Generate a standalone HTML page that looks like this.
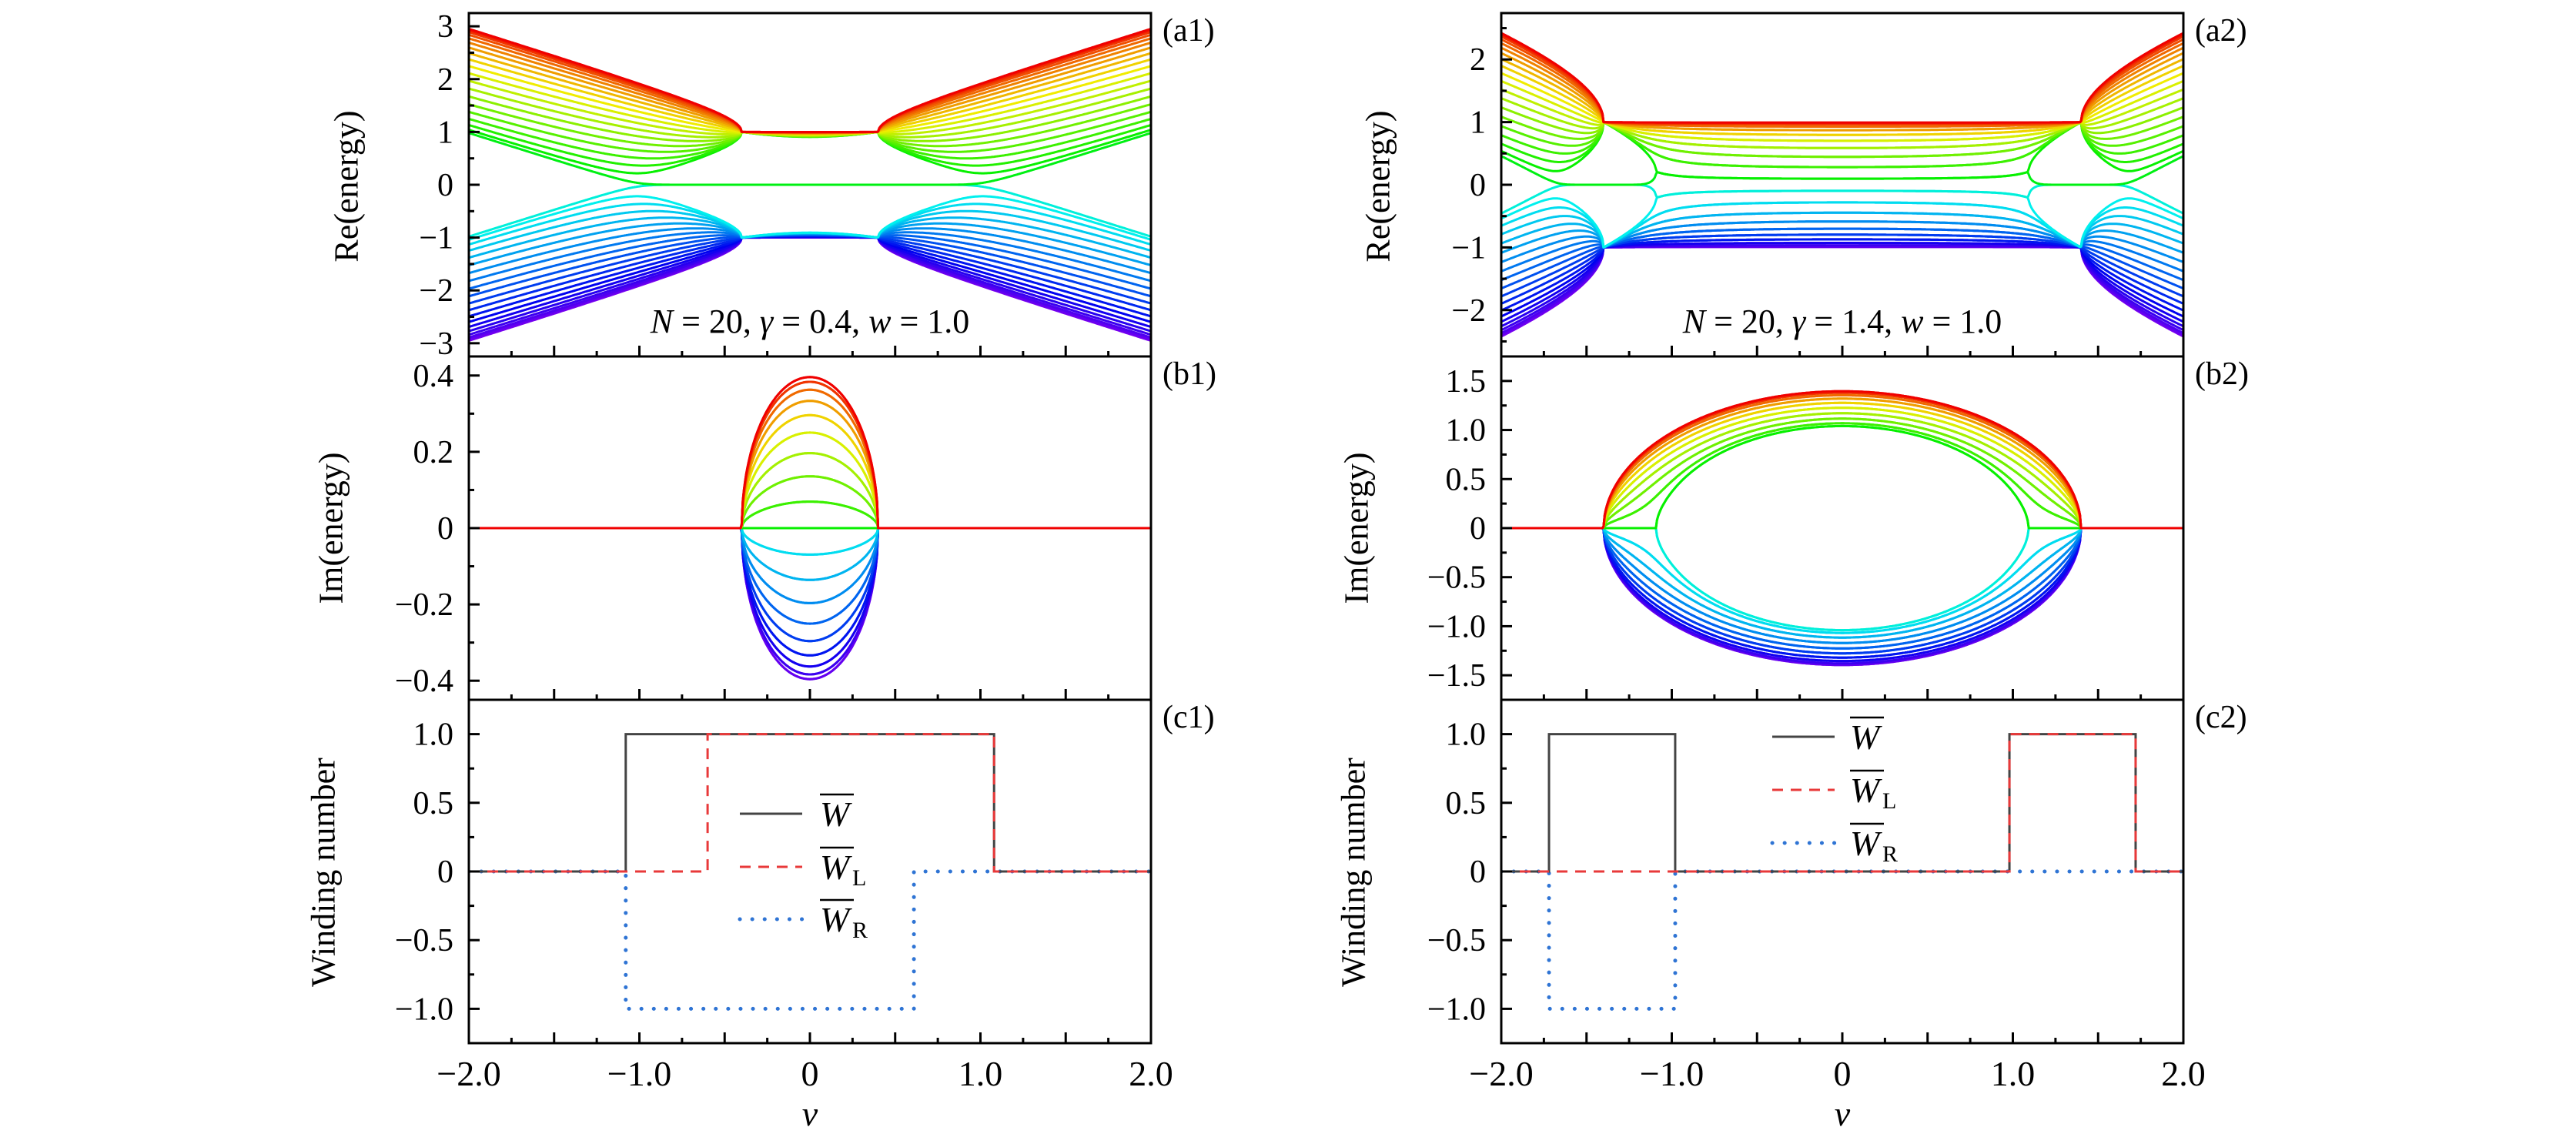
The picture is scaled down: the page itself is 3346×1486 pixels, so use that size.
<!DOCTYPE html>
<html><head><meta charset="utf-8"><style>
html,body{margin:0;padding:0;background:#fff;}
svg{display:block;font-family:"Liberation Serif",serif;}
</style></head><body>
<svg id="fig" xmlns="http://www.w3.org/2000/svg" width="3346" height="1486" viewBox="0 0 3346 1486">
<rect width="3346" height="1486" fill="#fff"/>
</svg>
<script>
// ---- data ----
const modelN = [20, 20];
const modelGamma = [0.4, 1.4];
const modelW = [1.0, 1.0];
const panelTags = [["(a1)","(b1)","(c1)"],["(a2)","(b2)","(c2)"]];
const reRanges = [[-3.25, 3.25], [-2.74, 2.74]];
const imRanges = [[-0.45, 0.45], [-1.75, 1.75]];
const wnRange = [-1.25, 1.25];
const reTicks = [[3,2,1,0,-1,-2,-3],[2,1,0,-1,-2]];
const reTickLabels = [["3","2","1","0","−1","−2","−3"],["2","1","0","−1","−2"]];
const imTicks = [[0.4,0.2,0,-0.2,-0.4],[1.5,1.0,0.5,0,-0.5,-1.0,-1.5]];
const imTickLabels = [["0.4","0.2","0","−0.2","−0.4"],["1.5","1.0","0.5","0","−0.5","−1.0","−1.5"]];
const wnTicks = [1.0,0.5,0,-0.5,-1.0];
const wnTickLabels = ["1.0","0.5","0","−0.5","−1.0"];
const xTicks = [-2,-1,0,1,2];
const xTickLabels = ["−2.0","−1.0","0","1.0","2.0"];
// winding-number step functions: breakpoints and levels
const wBreaks = [[-1.08, 1.08], [-1.72, -0.98, 0.98, 1.72]];
const wLevels = [[0,1,0], [0,1,0,1,0]];
const wlBreaks = [[-0.60, 1.08], [0.98, 1.72]];
const wlLevels = [[0,1,0], [0,1,0]];
const wrBreaks = [[-1.08, 0.61], [-1.72, -0.98]];
const wrLevels = [[0,-1,0], [0,-1,0]];

// ---- geometry ----
const NS="http://www.w3.org/2000/svg";
const svg=document.getElementById('fig');
const X0=[609,1950], PW=886, TOPS=[17,463,909], PH=446;
function xs(p,v){return X0[p]+(v+2)/4*PW;}
function ys(row,val,r){return TOPS[row]+(r[1]-val)/(r[1]-r[0])*PH;}
function mk(tag,attrs,parent){const e=document.createElementNS(NS,tag);for(const k in attrs)e.setAttribute(k,attrs[k]);(parent||svg).appendChild(e);return e;}

// ---- complex helpers ----
function cmul(a,b){return [a[0]*b[0]-a[1]*b[1],a[0]*b[1]+a[1]*b[0]];}
function cdiv(a,b){const d=b[0]*b[0]+b[1]*b[1];return [(a[0]*b[0]+a[1]*b[1])/d,(a[1]*b[0]-a[0]*b[1])/d];}
function csqrt(a){const r=Math.hypot(a[0],a[1]);let re=Math.sqrt(Math.max(0,(r+a[0])/2));let im=Math.sqrt(Math.max(0,(r-a[0])/2));if(a[1]<0)im=-im;return [re,im];}

function spectrum(v,g,w,N){
  const p2=v*v-g*g, c2=p2*w*w;
  const vp=csqrt([p2,0]);
  const z=[];
  for(let j=1;j<=N;j++){const c=Math.cos(Math.PI*j/(N+1));
    z.push([p2+w*w+2*vp[0]*w*c+2e-3*Math.cos(j*2.1),2*vp[1]*w*c+2e-3*Math.sin(j*2.1+0.4)]);}
  function f(l){
    let q0=[1,0], q1=[(N>1?p2+w*w:p2)-l[0], -l[1]];
    for(let j=2;j<=N;j++){const a=(j<N?p2+w*w:p2);const t=cmul([a-l[0],-l[1]],q1);const q2=[t[0]-c2*q0[0],t[1]-c2*q0[1]];q0=q1;q1=q2;}
    return (N%2===0)?q1:[-q1[0],-q1[1]];
  }
  for(let it=0;it<600;it++){
    let md=0;
    for(let i=0;i<N;i++){
      let den=[1,0];
      for(let j=0;j<N;j++){if(j!==i)den=cmul(den,[z[i][0]-z[j][0],z[i][1]-z[j][1]]);}
      const dm=Math.hypot(den[0],den[1]);
      if(!(dm>1e-290)||!isFinite(dm)){z[i]=[z[i][0]+1e-6,z[i][1]+1e-6];continue;}
      let d=cdiv(f(z[i]),den);
      if(!isFinite(d[0])||!isFinite(d[1]))continue;
      const dmag=Math.hypot(d[0],d[1]);
      if(dmag>0.5){d=[d[0]*0.5/dmag,d[1]*0.5/dmag];}
      z[i]=[z[i][0]-d[0],z[i][1]-d[1]];
      md=Math.max(md,Math.min(dmag,0.5));
    }
    if(md<1e-13)break;
  }
  return z;
}
function rainbow(t){
  let h;
  if(t<0.5){h=270-(270-172)*(t/0.5);}else{h=128*(1-(t-0.5)/0.5);}
  return 'hsl('+h.toFixed(1)+',100%,47%)';
}

// clip paths
const defs=mk('defs',{});
for(let p=0;p<2;p++)for(let r=0;r<3;r++){
  const cp=mk('clipPath',{id:'cp'+p+r},defs);
  mk('rect',{x:X0[p],y:TOPS[r],width:PW,height:PH},cp);
}

const NSAMP=601;
for(let p=0;p<2;p++){
  const N=modelN[p],g=modelGamma[p],w=modelW[p];
  const reC=[],imC=[];
  for(let k=0;k<2*N;k++){reC.push([]);imC.push([]);}
  for(let s=0;s<NSAMP;s++){
    const v=-2+4*s/(NSAMP-1)+1.3e-4;
    const lam=spectrum(v,g,w,N);
    const E=[];
    lam.forEach(l=>{const q=csqrt(l);E.push(q);E.push([-q[0],-q[1]]);});
    if(E.some(e=>!isFinite(e[0])||!isFinite(e[1])))continue;
    const byRe=E.map(e=>e[0]).sort((a,b)=>a-b);
    const byIm=E.map(e=>e[1]).sort((a,b)=>a-b);
    for(let k=0;k<2*N;k++){
      reC[k].push(xs(p,v).toFixed(1)+','+ys(0,byRe[k],reRanges[p]).toFixed(1));
      imC[k].push(xs(p,v).toFixed(1)+','+ys(1,byIm[k],imRanges[p]).toFixed(1));
    }
  }
  const gA=mk('g',{'clip-path':'url(#cp'+p+'0)'});
  
  
  const gB=mk('g',{'clip-path':'url(#cp'+p+'1)'});
  
  
  for(let k=0;k<2*N;k++){
    const col=rainbow(k/(2*N-1));
    const a=mk('polyline',{points:reC[k].join(' '),fill:'none',stroke:col,'stroke-width':3,'stroke-linejoin':'round'},gA);
    
    
    const b=mk('polyline',{points:imC[k].join(' '),fill:'none',stroke:col,'stroke-width':3,'stroke-linejoin':'round'},gB);
    
    
  }

  function stepPts(br,lv){
    const pts=[];let x=-2;
    for(let i=0;i<lv.length;i++){
      const xe=(i<br.length)?br[i]:2;
      pts.push(xs(p,x)+','+ys(2,lv[i],wnRange));
      pts.push(xs(p,xe)+','+ys(2,lv[i],wnRange));
      x=xe;
    }
    return pts.join(' ');
  }
  const gC=mk('g',{'clip-path':'url(#cp'+p+'2)'});
  const wr=mk('polyline',{points:stepPts(wrBreaks[p],wrLevels[p]),fill:'none',stroke:'#2f74d4','stroke-width':5,'stroke-dasharray':'0.1 16','stroke-linecap':'round'},gC);
  
  
  const ww=mk('polyline',{points:stepPts(wBreaks[p],wLevels[p]),fill:'none',stroke:'#444','stroke-width':3},gC);
  
  
  const wl=mk('polyline',{points:stepPts(wlBreaks[p],wlLevels[p]),fill:'none',stroke:'#e8393a','stroke-width':3,'stroke-dasharray':'14 10'},gC);
  
  

  const rngs=[reRanges[p],imRanges[p],wnRange];
  const ticks=[reTicks[p],imTicks[p],wnTicks];
  const labs=[reTickLabels[p],imTickLabels[p],wnTickLabels];
  const minorStep=[0.5,p===0?0.1:0.25,0.25];
  for(let r=0;r<3;r++){
    const fr=mk('rect',{x:X0[p],y:TOPS[r],width:PW,height:PH,fill:'none',stroke:'#000','stroke-width':3});
    
    
    const R=rngs[r];
    for(let t=Math.ceil(R[0]/minorStep[r]-1e-9)*minorStep[r];t<=R[1]+1e-9;t+=minorStep[r]){
      const y=ys(r,t,R);
      const isMaj=ticks[r].some(m=>Math.abs(m-t)<1e-6);
      mk('line',{x1:X0[p],x2:X0[p]+(isMaj?14:7),y1:y,y2:y,stroke:'#000','stroke-width':3});
    }
    ticks[r].forEach((t,i)=>{
      const tx=mk('text',{x:X0[p]-20,y:ys(r,t,R)+14,'text-anchor':'end','font-size':42});
      tx.textContent=labs[r][i];
      
      
    });
    for(let t=-2;t<=2.0001;t+=0.25){
      const x=xs(p,t);const maj=Math.abs(t*2-Math.round(t*2))<1e-6;
      mk('line',{x1:x,x2:x,y1:TOPS[r]+PH,y2:TOPS[r]+PH-(maj?14:7),stroke:'#000','stroke-width':3});
    }
    const tg=mk('text',{x:X0[p]+PW+15,y:TOPS[r]+36,'font-size':42});
    tg.textContent=panelTags[p][r];
    
    
  }
  xTicks.forEach((t,i)=>{
    const tx=mk('text',{x:xs(p,t),y:1410,'text-anchor':'middle','font-size':46});
    tx.textContent=xTickLabels[i];
    
    
  });
  const xl=mk('text',{x:X0[p]+PW/2,y:1462,'text-anchor':'middle','font-size':46,'font-style':'italic'});
  xl.textContent='v';
  
  
  const lx=[[450,430,420],[1790,1762,1758]][p];
  const ttl=['Re(energy)','Im(energy)','Winding number'];
  const tyc=[242,686,1133];
  for(let r=0;r<3;r++){
    const t=mk('text',{x:lx[r],y:tyc[r],'text-anchor':'middle','font-size':44,transform:'rotate(-90 '+lx[r]+' '+tyc[r]+')','dominant-baseline':'central'});
    t.textContent=ttl[r];
    
    
  }
  const an=mk('text',{x:X0[p]+PW/2,y:432,'text-anchor':'middle','font-size':44});
  an.innerHTML='<tspan font-style="italic">N</tspan> = 20, <tspan font-style="italic">γ</tspan> = '+g.toFixed(1)+', <tspan font-style="italic">w</tspan> = '+w.toFixed(1);
  
  

  const L=[{rows:[1057,1126,1194],x1:961,x2:1042,tx:1065},{rows:[957,1026,1095],x1:2302,x2:2383,tx:2403}][p];
  const sty=[{stroke:'#444','stroke-width':3},{stroke:'#e8393a','stroke-width':3,'stroke-dasharray':'14 10'},{stroke:'#2f74d4','stroke-width':5,'stroke-dasharray':'0.1 16','stroke-linecap':'round'}];
  const subs=['','L','R'];
  const lg=mk('g',{});
  
  
  for(let i=0;i<3;i++){
    const y=L.rows[i];
    const a=Object.assign({x1:L.x1,x2:L.x2,y1:y,y2:y},sty[i]);
    const ln=mk('line',a,lg);
    
    
    const t=mk('text',{x:L.tx,y:y+16,'font-size':46,'font-style':'italic'},lg);
    t.textContent='W';
    
    
    mk('line',{x1:L.tx,x2:L.tx+44,y1:y-25,y2:y-25,stroke:'#000','stroke-width':2.5},lg);
    if(subs[i]){const s=mk('text',{x:L.tx+42,y:y+24,'font-size':30},lg);s.textContent=subs[i];
      
      }
  }
}
</script>
</body></html>
